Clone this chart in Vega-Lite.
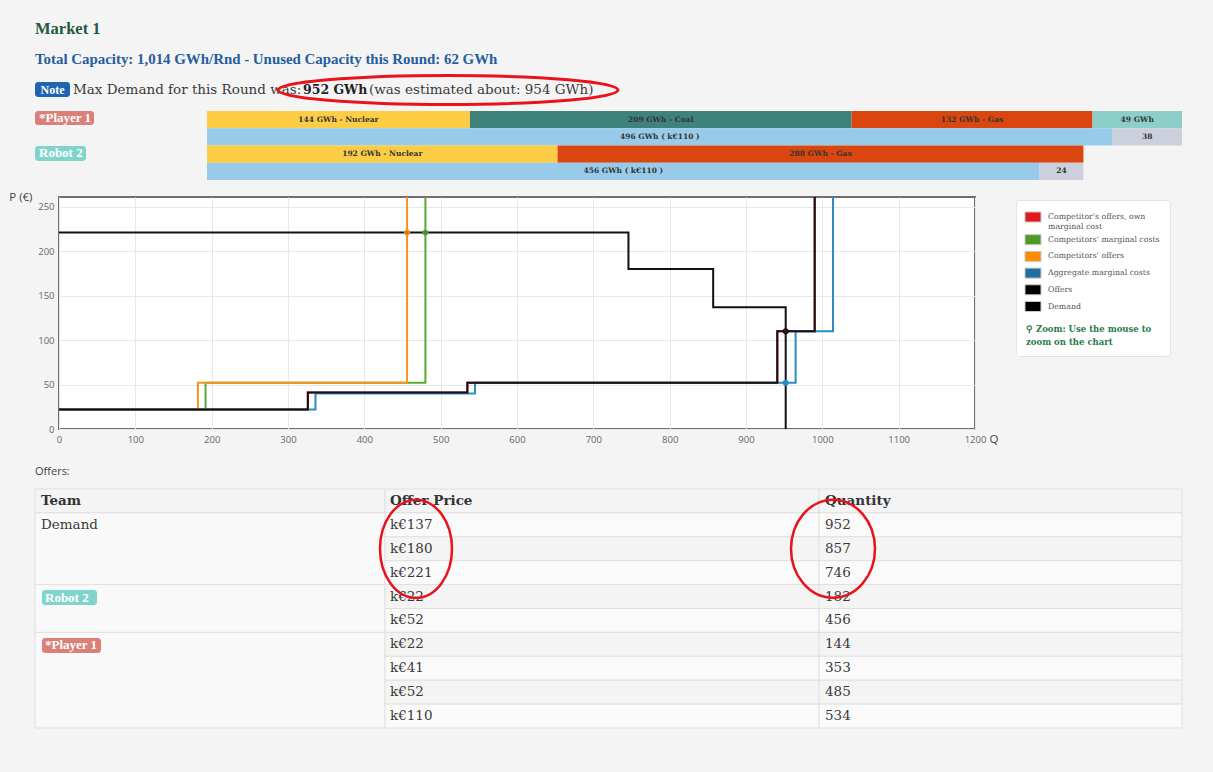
{
"$schema": "https://vega.github.io/schema/vega-lite/v6.json",
"width": 916,
"height": 232,
"autosize": {"type": "none"},
"padding": {"left": 59, "top": 197, "right": 238, "bottom": 343},
"background": "#f4f4f4",
"config": {
  "view": {"fill": "#ffffff", "stroke": "#6e6e6e", "strokeWidth": 2},
  "line": {"strokeWidth": 2},
  "axis": {"labelFont": "Open Sans", "labelFontSize": 9.5, "labelColor": "#666666", "gridColor": "#e8e8e8", "gridWidth": 1, "domain": false, "ticks": false, "titleFont": "Open Sans", "titleFontWeight": "normal", "titleColor": "#444444", "titleFontSize": 11.5, "labelFlush": false, "labelOverlap": false}
},
"datasets": {
  "curves": [
    {"series": "Competitor's offers, own marginal cost", "q": 0, "p": 22},
    {"series": "Competitor's offers, own marginal cost", "q": 326, "p": 41},
    {"series": "Competitor's offers, own marginal cost", "q": 535, "p": 52},
    {"series": "Competitor's offers, own marginal cost", "q": 941, "p": 110},
    {"series": "Competitor's offers, own marginal cost", "q": 990, "p": 300},
    {"series": "Competitors' marginal costs", "q": 0, "p": 22},
    {"series": "Competitors' marginal costs", "q": 192, "p": 52},
    {"series": "Competitors' marginal costs", "q": 480, "p": 300},
    {"series": "Competitors' offers", "q": 0, "p": 22},
    {"series": "Competitors' offers", "q": 182, "p": 52},
    {"series": "Competitors' offers", "q": 456, "p": 300},
    {"series": "Aggregate marginal costs", "q": 0, "p": 22},
    {"series": "Aggregate marginal costs", "q": 336, "p": 40},
    {"series": "Aggregate marginal costs", "q": 545, "p": 52},
    {"series": "Aggregate marginal costs", "q": 965, "p": 110},
    {"series": "Aggregate marginal costs", "q": 1014, "p": 300},
    {"series": "Offers", "q": 0, "p": 22},
    {"series": "Offers", "q": 326, "p": 41},
    {"series": "Offers", "q": 535, "p": 52},
    {"series": "Offers", "q": 941, "p": 110},
    {"series": "Offers", "q": 990, "p": 300},
    {"series": "Demand", "q": 0, "p": 221},
    {"series": "Demand", "q": 746, "p": 180},
    {"series": "Demand", "q": 857, "p": 137},
    {"series": "Demand", "q": 952, "p": 0}
  ],
  "cross": [
    {"series": "Competitors' offers", "q": 456, "p": 221},
    {"series": "Competitors' marginal costs", "q": 480, "p": 221},
    {"series": "Offers", "q": 952, "p": 110},
    {"series": "Aggregate marginal costs", "q": 952, "p": 52}
  ],
  "capacity": [
    {"row": "P1a", "seq": 1, "gwh": 144, "kind": "Nuclear", "label": "144 GWh - Nuclear"},
    {"row": "P1a", "seq": 2, "gwh": 209, "kind": "Coal", "label": "209 GWh - Coal"},
    {"row": "P1a", "seq": 3, "gwh": 132, "kind": "Gas", "label": "132 GWh - Gas"},
    {"row": "P1a", "seq": 4, "gwh": 49, "kind": "Other", "label": "49 GWh"},
    {"row": "P1b", "seq": 1, "gwh": 496, "kind": "Sold", "label": "496 GWh ( k€110 )"},
    {"row": "P1b", "seq": 2, "gwh": 38, "kind": "Unsold", "label": "38"},
    {"row": "R2a", "seq": 1, "gwh": 192, "kind": "Nuclear", "label": "192 GWh - Nuclear"},
    {"row": "R2a", "seq": 2, "gwh": 288, "kind": "Gas", "label": "288 GWh - Gas"},
    {"row": "R2b", "seq": 1, "gwh": 456, "kind": "Sold", "label": "456 GWh ( k€110 )"},
    {"row": "R2b", "seq": 2, "gwh": 24, "kind": "Unsold", "label": "24"}
  ],
  "pq": [
    {"row": 0, "price": "Offer Price", "qty": "Quantity"},
    {"row": 1, "price": "k€137", "qty": "952"},
    {"row": 2, "price": "k€180", "qty": "857"},
    {"row": 3, "price": "k€221", "qty": "746"},
    {"row": 4, "price": "k€22", "qty": "182"},
    {"row": 5, "price": "k€52", "qty": "456"},
    {"row": 6, "price": "k€22", "qty": "144"},
    {"row": 7, "price": "k€41", "qty": "353"},
    {"row": 8, "price": "k€52", "qty": "485"},
    {"row": 9, "price": "k€110", "qty": "534"}
  ],
  "teams": [
    {"team": "Team", "ord": 0, "span": 1},
    {"team": "Demand", "ord": 1, "span": 3},
    {"team": "Robot 2", "ord": 2, "span": 2},
    {"team": "*Player 1", "ord": 3, "span": 4}
  ]
},
"resolve": {"scale": {"x": "independent", "y": "independent", "color": "independent", "fill": "independent", "stroke": "independent", "shape": "independent"}},
"layer": [
  {
    "layer": [
      {
        "data": {"name": "curves"},
        "transform": [{"filter": "datum.series != 'Offers' && datum.series != 'Demand'"}],
        "mark": {"type": "line", "interpolate": "step-after", "clip": true},
        "encoding": {
          "x": {"field": "q", "type": "quantitative", "scale": {"domain": [0, 1200], "nice": false, "zero": false},
                "axis": {"values": [0, 100, 200, 300, 400, 500, 600, 700, 800, 900, 1000, 1100, 1200], "format": "d", "grid": true, "title": "Q", "titleAngle": 0, "titleAlign": "left", "titleBaseline": "middle", "titleX": 930, "titleY": 10, "labelPadding": 5}},
          "y": {"field": "p", "type": "quantitative", "scale": {"domain": [0, 261], "nice": false, "zero": false},
                "axis": {"values": [0, 50, 100, 150, 200, 250], "format": "d", "grid": true, "title": "P (€)", "titleAngle": 0, "titleAlign": "right", "titleBaseline": "middle", "titleX": -27, "titleY": 0, "labelPadding": 5}},
          "stroke": {"field": "series", "type": "nominal",
                    "scale": {"domain": ["Demand", "Offers", "Aggregate marginal costs", "Competitors' offers", "Competitors' marginal costs", "Competitor's offers, own marginal cost"],
                              "range": ["#111111", "#111111", "#2b8bc3", "#f7941d", "#5ea635", "#e31a1c"]},
                    "legend": null}
        }
      },
      {
        "data": {"name": "curves"},
        "transform": [{"filter": "datum.series == 'Offers' || datum.series == 'Demand'"}],
        "mark": {"type": "line", "interpolate": "step-after", "clip": true},
        "encoding": {
          "x": {"field": "q", "type": "quantitative"},
          "y": {"field": "p", "type": "quantitative"},
          "stroke": {"field": "series", "type": "nominal", "legend": null}
        }
      },
      {
        "data": {"name": "cross"},
        "mark": {"type": "point", "filled": true, "size": 24, "strokeWidth": 1.2, "opacity": 1},
        "encoding": {
          "x": {"field": "q", "type": "quantitative"},
          "y": {"field": "p", "type": "quantitative"},
          "fill": {"field": "series", "type": "nominal", "scale": {"domain": ["Competitors' offers", "Competitors' marginal costs", "Offers", "Aggregate marginal costs"], "range": ["#c77a1a", "#4f8a2e", "#222222", "#2b8bc3"]}, "legend": null},
          "stroke": {"field": "series", "type": "nominal", "legend": null}
        }
      },
      {
        "data": {"name": "curves"},
        "transform": [{"filter": "datum.q == 0"}],
        "mark": {"type": "square", "filled": true, "opacity": 0, "size": 1},
        "encoding": {
          "x": {"field": "q", "type": "quantitative"},
          "y": {"field": "p", "type": "quantitative"},
          "color": {"field": "series", "type": "nominal",
                    "scale": {"domain": ["Competitor's offers, own marginal cost", "Competitors' marginal costs", "Competitors' offers", "Aggregate marginal costs", "Offers", "Demand"],
                              "range": ["#e31a1c", "#4e9a26", "#ff8c00", "#1f6f9f", "#000000", "#000000"]},
                    "legend": {"orient": "none", "legendX": 957, "legendY": 3,
                               "title": ["⚲ Zoom: Use the mouse to", "zoom on the chart"], "titleOrient": "bottom", "titleAnchor": "start",
                               "titleFont": "DejaVu Serif", "titleFontSize": 8.5, "titleFontWeight": "bold", "titleColor": "#2a7a4b", "titleLineHeight": 12.5, "titlePadding": 11, "titleLimit": 300,
                               "labelFont": "DejaVu Serif", "labelFontSize": 7.8, "labelColor": "#555555", "labelLimit": 300, "labelOffset": 8,
                               "labelExpr": "indexof(datum.label, 'own marginal') > 0 ? [\"Competitor's offers, own\", 'marginal cost'] : datum.label",
                               "symbolType": "M-1.23,-0.77H1.23V0.77H-1.23Z", "symbolSize": 169, "symbolOpacity": 1, "symbolStrokeColor": "#c8c8c8", "symbolStrokeWidth": 1,
                               "fillColor": "#ffffff", "strokeColor": "#e3e3e3", "cornerRadius": 3, "padding": 10, "rowPadding": 0.7}}
        }
      }
    ]
  },
  {
    "data": {"name": "capacity"},
    "transform": [{"stack": "gwh", "groupby": ["row"], "sort": [{"field": "seq", "order": "ascending"}], "as": ["g0", "g1"]}],
    "encoding": {
      "y": {"field": "row", "type": "nominal", "scale": {"domain": ["P1a", "P1b", "R2a", "R2b"], "range": [-86, -17], "paddingInner": 0, "paddingOuter": 0}, "axis": null}
    },
    "layer": [
      {
        "mark": {"type": "bar"},
        "encoding": {
          "x": {"field": "g0", "type": "quantitative", "scale": {"domain": [0, 534], "range": [148, 1123], "nice": false, "zero": false}, "axis": null},
          "x2": {"field": "g1"},
          "color": {"field": "kind", "type": "nominal", "scale": {"domain": ["Nuclear", "Coal", "Gas", "Other", "Sold", "Unsold"], "range": ["#fdcd45", "#3f827c", "#d9460f", "#8ccfc9", "#98cbea", "#cbd0dc"]}, "legend": null}
        }
      },
      {
        "transform": [
          {"fold": ["g0", "g1"], "as": ["edge", "pos"]},
          {"aggregate": [{"op": "mean", "field": "pos", "as": "mid"}], "groupby": ["row", "label"]}
        ],
        "mark": {"type": "text", "baseline": "middle", "font": "DejaVu Serif", "fontSize": 7.5, "fontWeight": "bold", "color": "#333333"},
        "encoding": {
          "x": {"field": "mid", "type": "quantitative"},
          "text": {"field": "label"}
        }
      }
    ]
  },
  {
    "data": {"values": [{"team": "*Player 1", "row": "P1a"}, {"team": "Robot 2", "row": "R2a"}]},
    "encoding": {
      "x": {"datum": 0, "type": "quantitative", "scale": {"domain": [0, 1, 2, 3], "range": [-24, 326, 760, 1123]}, "axis": null},
      "y": {"field": "row", "type": "nominal", "scale": {"domain": ["P1a", "P1b", "R2a", "R2b"], "range": [-86, -17], "paddingInner": 0, "paddingOuter": 0}, "axis": null}
    },
    "layer": [
      {
        "mark": {"type": "point", "filled": true, "opacity": 1, "size": 10000, "strokeWidth": 0},
        "encoding": {
          "shape": {"field": "team", "type": "nominal", "scale": {"domain": ["*Player 1", "Robot 2"], "range": ["M0.06,-0.172H1.12A0.06,0.06 0 0 1 1.18,-0.112V0.048A0.06,0.06 0 0 1 1.12,0.108H0.06A0.06,0.06 0 0 1 0,0.048V-0.112A0.06,0.06 0 0 1 0.06,-0.172Z", "M0.06,-0.162H0.96A0.06,0.06 0 0 1 1.02,-0.102V0.078A0.06,0.06 0 0 1 0.96,0.138H0.06A0.06,0.06 0 0 1 0,0.078V-0.102A0.06,0.06 0 0 1 0.06,-0.162Z"]}, "legend": null},
          "color": {"field": "team", "type": "nominal", "scale": {"domain": ["*Player 1", "Robot 2"], "range": ["#da8078", "#7fd4cb"]}, "legend": null}
        }
      },
      {
        "mark": {"type": "text", "align": "left", "baseline": "middle", "dx": 4, "dy": -1.5, "font": "Liberation Serif", "fontSize": 13, "fontWeight": "bold", "color": "#ffffff"},
        "encoding": {"text": {"field": "team"}}
      }
    ]
  },
  {
    "encoding": {
      "x": {"datum": 0, "type": "quantitative", "scale": {"domain": [0, 1, 2, 3], "range": [-24, 326, 760, 1123]}, "axis": null},
      "y": {"field": "line", "type": "nominal", "scale": {"type": "point", "domain": ["title", "capacity", "note"], "range": [-168, -107], "padding": 0}, "axis": null}
    },
    "layer": [
      {
        "data": {"values": [{"line": "title", "text": "Market 1"}]},
        "mark": {"type": "text", "align": "left", "baseline": "middle", "font": "Liberation Serif", "fontSize": 16.5, "fontWeight": "bold", "color": "#1f5b40"},
        "encoding": {"text": {"field": "text"}}
      },
      {
        "data": {"values": [{"line": "capacity", "text": "Total Capacity: 1,014 GWh/Rnd - Unused Capacity this Round: 62 GWh"}]},
        "mark": {"type": "text", "align": "left", "baseline": "middle", "font": "Liberation Serif", "fontSize": 14.9, "fontWeight": "bold", "color": "#255d9e"},
        "encoding": {"text": {"field": "text"}}
      },
      {
        "data": {"values": [{"line": "note", "text": "Note"}]},
        "mark": {"type": "point", "shape": "M0.06,-0.16H0.64A0.06,0.06 0 0 1 0.7,-0.1V0.08A0.06,0.06 0 0 1 0.64,0.14H0.06A0.06,0.06 0 0 1 0,0.08V-0.1A0.06,0.06 0 0 1 0.06,-0.16Z", "size": 10000, "filled": true, "color": "#1e64b1", "opacity": 1, "strokeWidth": 0}
      },
      {
        "data": {"values": [{"line": "note", "text": "Note"}]},
        "mark": {"type": "text", "align": "center", "baseline": "middle", "dx": 17.5, "dy": -0.5, "font": "Liberation Serif", "fontSize": 12, "fontWeight": "bold", "color": "#ffffff"},
        "encoding": {"text": {"field": "text"}}
      },
      {
        "data": {"values": [{"line": "note", "text": "Max Demand for this Round was:"}]},
        "mark": {"type": "text", "align": "left", "baseline": "middle", "dx": 38, "font": "DejaVu Serif", "fontSize": 13.5, "color": "#3a3a3a"},
        "encoding": {"text": {"field": "text"}}
      },
      {
        "data": {"values": [{"line": "note", "text": "952 GWh"}]},
        "mark": {"type": "text", "align": "left", "baseline": "middle", "dx": 268, "font": "DejaVu Serif", "fontSize": 12.5, "fontWeight": "bold", "color": "#222222"},
        "encoding": {"text": {"field": "text"}}
      },
      {
        "data": {"values": [{"line": "note", "text": "(was estimated about: 954 GWh)"}]},
        "mark": {"type": "text", "align": "left", "baseline": "middle", "dx": 334, "font": "DejaVu Serif", "fontSize": 13.5, "color": "#3a3a3a"},
        "encoding": {"text": {"field": "text"}}
      },
      {
        "data": {"values": [{"line": "note", "text": "highlight"}]},
        "mark": {"type": "point", "shape": "M4.86,0A3.4,0.29 0 1 0 11.66,0A3.4,0.29 0 1 0 4.86,0Z", "size": 10000, "filled": false, "stroke": "#e8141c", "strokeWidth": 3, "opacity": 1}
      }
    ]
  },
  {
    "data": {"values": [{"text": "Offers:"}]},
    "mark": {"type": "text", "align": "left", "baseline": "middle", "font": "Open Sans", "fontSize": 11, "color": "#444444"},
    "encoding": {
      "x": {"datum": 0, "type": "quantitative", "scale": {"domain": [0, 1, 2, 3], "range": [-24, 326, 760, 1123]}, "axis": null},
      "y": {"datum": -0.72, "type": "quantitative", "scale": {"domain": [0, 10], "range": [292, 531], "nice": false, "zero": false}, "axis": null},
      "text": {"field": "text"}
    }
  },
  {
    "data": {"name": "teams"},
    "transform": [{"stack": "span", "groupby": [], "sort": [{"field": "ord", "order": "ascending"}], "as": ["r0", "r1"]}],
    "encoding": {
      "x": {"datum": 0, "type": "quantitative", "scale": {"domain": [0, 1, 2, 3], "range": [-24, 326, 760, 1123]}, "axis": null},
      "y": {"field": "r0", "type": "quantitative", "scale": {"domain": [0, 10], "range": [292, 531], "nice": false, "zero": false}, "axis": null}
    },
    "layer": [
      {
        "mark": {"type": "rect", "stroke": "#e0e0e0", "strokeWidth": 1},
        "encoding": {
          "x2": {"datum": 1},
          "y2": {"field": "r1"},
          "color": {"condition": {"test": "datum.ord == 0", "value": "#f4f4f4"}, "value": "#f9f9f9"}
        }
      },
      {
        "transform": [{"filter": "datum.ord == 0"}],
        "mark": {"type": "text", "align": "left", "baseline": "middle", "dx": 6, "dy": 12, "font": "DejaVu Serif", "fontSize": 13.5, "fontWeight": "bold", "color": "#333333"},
        "encoding": {"text": {"field": "team"}}
      },
      {
        "transform": [{"filter": "datum.ord == 1"}],
        "mark": {"type": "text", "align": "left", "baseline": "middle", "dx": 6, "dy": 12, "font": "DejaVu Serif", "fontSize": 13.5, "color": "#3a3a3a"},
        "encoding": {"text": {"field": "team"}}
      },
      {
        "transform": [{"filter": "datum.ord >= 2"}],
        "mark": {"type": "point", "filled": true, "size": 10000, "opacity": 1, "strokeWidth": 0},
        "encoding": {
          "shape": {"field": "team", "type": "nominal", "scale": {"domain": ["Robot 2", "*Player 1"], "range": ["M0.2,0.11H1.18A0.06,0.06 0 0 1 1.24,0.17V0.35A0.06,0.06 0 0 1 1.18,0.41H0.2A0.06,0.06 0 0 1 0.14,0.35V0.17A0.06,0.06 0 0 1 0.2,0.11Z", "M0.2,0.11H1.26A0.06,0.06 0 0 1 1.32,0.17V0.35A0.06,0.06 0 0 1 1.26,0.41H0.2A0.06,0.06 0 0 1 0.14,0.35V0.17A0.06,0.06 0 0 1 0.2,0.11Z"]}, "legend": null},
          "color": {"field": "team", "type": "nominal", "scale": {"domain": ["Robot 2", "*Player 1"], "range": ["#7fd4cb", "#da8078"]}, "legend": null}
        }
      },
      {
        "transform": [{"filter": "datum.ord >= 2"}],
        "mark": {"type": "text", "align": "left", "baseline": "middle", "dx": 10, "dy": 13, "font": "Liberation Serif", "fontSize": 13, "fontWeight": "bold", "color": "#ffffff"},
        "encoding": {"text": {"field": "team"}}
      }
    ]
  },
  {
    "data": {"name": "pq"},
    "encoding": {
      "y": {"field": "row", "type": "ordinal", "scale": {"domain": [0, 1, 2, 3, 4, 5, 6, 7, 8, 9], "range": [292, 531], "paddingInner": 0, "paddingOuter": 0}, "axis": null}
    },
    "layer": [
      {
        "mark": {"type": "rect", "stroke": "#e0e0e0", "strokeWidth": 1},
        "encoding": {
          "x": {"datum": 1, "type": "quantitative", "scale": {"domain": [0, 1, 2, 3], "range": [-24, 326, 760, 1123]}, "axis": null},
          "x2": {"datum": 2},
          "color": {"condition": [{"test": "datum.row == 0", "value": "#f4f4f4"}, {"test": "datum.row % 2 == 1", "value": "#fafafa"}], "value": "#f4f4f4"}
        }
      },
      {
        "mark": {"type": "rect", "stroke": "#e0e0e0", "strokeWidth": 1},
        "encoding": {
          "x": {"datum": 2, "type": "quantitative", "scale": {"domain": [0, 1, 2, 3], "range": [-24, 326, 760, 1123]}, "axis": null},
          "x2": {"datum": 3},
          "color": {"condition": [{"test": "datum.row == 0", "value": "#f4f4f4"}, {"test": "datum.row % 2 == 1", "value": "#fafafa"}], "value": "#f4f4f4"}
        }
      },
      {
        "transform": [{"filter": "datum.row > 0"}],
        "mark": {"type": "text", "align": "left", "baseline": "middle", "dx": 5, "font": "DejaVu Serif", "fontSize": 13.5, "color": "#3a3a3a"},
        "encoding": {
          "x": {"datum": 1, "type": "quantitative", "scale": {"domain": [0, 1, 2, 3], "range": [-24, 326, 760, 1123]}, "axis": null},
          "text": {"field": "price"}
        }
      },
      {
        "transform": [{"filter": "datum.row > 0"}],
        "mark": {"type": "text", "align": "left", "baseline": "middle", "dx": 6, "font": "DejaVu Serif", "fontSize": 13.5, "color": "#3a3a3a"},
        "encoding": {
          "x": {"datum": 2, "type": "quantitative", "scale": {"domain": [0, 1, 2, 3], "range": [-24, 326, 760, 1123]}, "axis": null},
          "text": {"field": "qty"}
        }
      },
      {
        "transform": [{"filter": "datum.row == 0"}],
        "mark": {"type": "text", "align": "left", "baseline": "middle", "dx": 5, "font": "DejaVu Serif", "fontSize": 13.5, "fontWeight": "bold", "color": "#333333"},
        "encoding": {
          "x": {"datum": 1, "type": "quantitative", "scale": {"domain": [0, 1, 2, 3], "range": [-24, 326, 760, 1123]}, "axis": null},
          "text": {"field": "price"}
        }
      },
      {
        "transform": [{"filter": "datum.row == 0"}],
        "mark": {"type": "text", "align": "left", "baseline": "middle", "dx": 6, "font": "DejaVu Serif", "fontSize": 13.5, "fontWeight": "bold", "color": "#333333"},
        "encoding": {
          "x": {"datum": 2, "type": "quantitative", "scale": {"domain": [0, 1, 2, 3], "range": [-24, 326, 760, 1123]}, "axis": null},
          "text": {"field": "qty"}
        }
      },
      {
        "transform": [{"filter": "datum.row == 2"}],
        "mark": {"type": "point", "shape": "M-0.1,0A0.72,0.98 0 1 0 1.34,0A0.72,0.98 0 1 0 -0.1,0Z", "size": 10000, "filled": false, "stroke": "#e8141c", "strokeWidth": 2.5, "opacity": 1},
        "encoding": {
          "x": {"datum": 1, "type": "quantitative", "scale": {"domain": [0, 1, 2, 3], "range": [-24, 326, 760, 1123]}, "axis": null}
        }
      },
      {
        "transform": [{"filter": "datum.row == 2"}],
        "mark": {"type": "point", "shape": "M-0.56,0A0.84,0.98 0 1 0 1.12,0A0.84,0.98 0 1 0 -0.56,0Z", "size": 10000, "filled": false, "stroke": "#e8141c", "strokeWidth": 2.5, "opacity": 1},
        "encoding": {
          "x": {"datum": 2, "type": "quantitative", "scale": {"domain": [0, 1, 2, 3], "range": [-24, 326, 760, 1123]}, "axis": null}
        }
      }
    ]
  }
]
}
